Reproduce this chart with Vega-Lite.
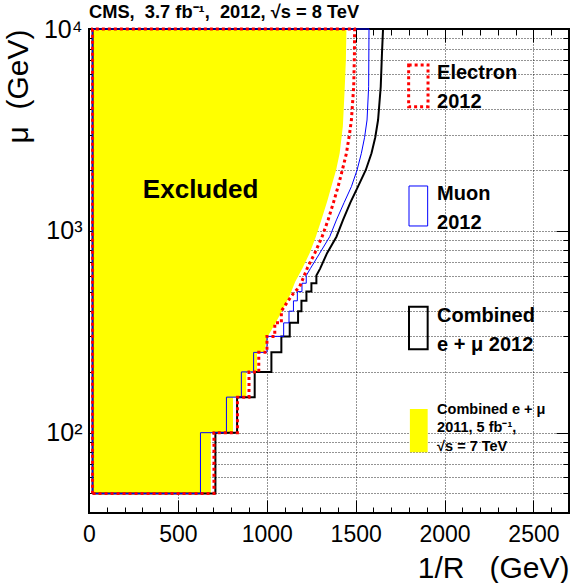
{
  "$schema": "https://vega.github.io/schema/vega-lite/v6.json",
  "width": 480,
  "height": 484,
  "autosize": {"type": "none"},
  "padding": {"left": 89, "top": 29, "right": 10, "bottom": 70},
  "title": {"text": "CMS,\u00a0 3.7 fb⁻¹,\u00a0 2012, √s = 8 TeV", "anchor": "start", "frame": "group", "font": "Liberation Sans", "fontSize": 18.3, "fontWeight": "bold", "color": "black", "offset": -23, "baseline": "bottom"},
  "datasets": {
    "yellow": [
      {"r0": 25, "r": 985, "mu": 250}, {"r0": 25, "r": 1005, "mu": 300}, {"r0": 25, "r": 1050, "mu": 350}, {"r0": 25, "r": 1085, "mu": 400},
      {"r0": 25, "r": 1130, "mu": 480}, {"r0": 25, "r": 1160, "mu": 560}, {"r0": 25, "r": 1200, "mu": 650}, {"r0": 25, "r": 1241, "mu": 775},
      {"r0": 25, "r": 1275, "mu": 930}, {"r0": 25, "r": 1307, "mu": 1133}, {"r0": 25, "r": 1340, "mu": 1400}, {"r0": 25, "r": 1363, "mu": 1656},
      {"r0": 25, "r": 1390, "mu": 2000}, {"r0": 25, "r": 1410, "mu": 2421}, {"r0": 25, "r": 1428, "mu": 3300}, {"r0": 25, "r": 1438, "mu": 5000},
      {"r0": 25, "r": 1445, "mu": 7000}, {"r0": 25, "r": 1448, "mu": 10000}
    ],
    "ystep": [
      {"r0": 25, "r": 685, "lo": 50, "hi": 10000},
      {"r0": 25, "r": 810, "lo": 100, "hi": 10000},
      {"r0": 25, "r": 885, "lo": 150, "hi": 10000},
      {"r0": 25, "r": 945, "lo": 200, "hi": 10000},
      {"r0": 25, "r": 985, "lo": 250, "hi": 10000}
    ],
    "lim": [
      {"s": "c", "o": 1, "r": 20, "mu": 50}, {"s": "c", "o": 2, "r": 711, "mu": 50}, {"s": "c", "o": 3, "r": 711, "mu": 100}, {"s": "c", "o": 4, "r": 833, "mu": 100},
      {"s": "c", "o": 5, "r": 833, "mu": 150}, {"s": "c", "o": 6, "r": 932, "mu": 150}, {"s": "c", "o": 7, "r": 932, "mu": 200}, {"s": "c", "o": 8, "r": 1026, "mu": 200},
      {"s": "c", "o": 9, "r": 1026, "mu": 250}, {"s": "c", "o": 10, "r": 1082, "mu": 250}, {"s": "c", "o": 11, "r": 1082, "mu": 300}, {"s": "c", "o": 12, "r": 1129, "mu": 300},
      {"s": "c", "o": 13, "r": 1129, "mu": 350}, {"s": "c", "o": 14, "r": 1176, "mu": 350}, {"s": "c", "o": 15, "r": 1176, "mu": 400}, {"s": "c", "o": 16, "r": 1195, "mu": 400},
      {"s": "c", "o": 17, "r": 1195, "mu": 450}, {"s": "c", "o": 18, "r": 1223, "mu": 450}, {"s": "c", "o": 19, "r": 1223, "mu": 500}, {"s": "c", "o": 20, "r": 1251, "mu": 500},
      {"s": "c", "o": 21, "r": 1251, "mu": 550}, {"s": "c", "o": 22, "r": 1279, "mu": 550}, {"s": "c", "o": 23, "r": 1279, "mu": 600}, {"s": "c", "o": 24, "r": 1300, "mu": 650},
      {"s": "c", "o": 25, "r": 1339, "mu": 775}, {"s": "c", "o": 26, "r": 1392, "mu": 935}, {"s": "c", "o": 27, "r": 1429, "mu": 1133}, {"s": "c", "o": 28, "r": 1470, "mu": 1380},
      {"s": "c", "o": 29, "r": 1513, "mu": 1656}, {"s": "c", "o": 30, "r": 1557, "mu": 2002}, {"s": "c", "o": 31, "r": 1589, "mu": 2421}, {"s": "c", "o": 32, "r": 1610, "mu": 2900},
      {"s": "c", "o": 33, "r": 1626, "mu": 3540}, {"s": "c", "o": 34, "r": 1641, "mu": 5176}, {"s": "c", "o": 35, "r": 1648, "mu": 7580}, {"s": "c", "o": 36, "r": 1654, "mu": 10000},
      {"s": "c", "o": 37, "r": 20, "mu": 10000}, {"s": "c", "o": 38, "r": 20, "mu": 50},
      {"s": "m", "o": 1, "r": 20, "mu": 50}, {"s": "m", "o": 2, "r": 627, "mu": 50}, {"s": "m", "o": 3, "r": 627, "mu": 100}, {"s": "m", "o": 4, "r": 773, "mu": 100},
      {"s": "m", "o": 5, "r": 773, "mu": 150}, {"s": "m", "o": 6, "r": 857, "mu": 150}, {"s": "m", "o": 7, "r": 857, "mu": 200}, {"s": "m", "o": 8, "r": 926, "mu": 200},
      {"s": "m", "o": 9, "r": 926, "mu": 250}, {"s": "m", "o": 10, "r": 1001, "mu": 250}, {"s": "m", "o": 11, "r": 1001, "mu": 300}, {"s": "m", "o": 12, "r": 1095, "mu": 300},
      {"s": "m", "o": 13, "r": 1095, "mu": 350}, {"s": "m", "o": 14, "r": 1125, "mu": 350}, {"s": "m", "o": 15, "r": 1125, "mu": 400}, {"s": "m", "o": 16, "r": 1150, "mu": 400},
      {"s": "m", "o": 17, "r": 1150, "mu": 450}, {"s": "m", "o": 18, "r": 1172, "mu": 450}, {"s": "m", "o": 19, "r": 1172, "mu": 500}, {"s": "m", "o": 20, "r": 1198, "mu": 500},
      {"s": "m", "o": 21, "r": 1198, "mu": 550}, {"s": "m", "o": 22, "r": 1222, "mu": 550}, {"s": "m", "o": 23, "r": 1222, "mu": 600}, {"s": "m", "o": 24, "r": 1245, "mu": 650},
      {"s": "m", "o": 25, "r": 1298, "mu": 775}, {"s": "m", "o": 26, "r": 1354, "mu": 935}, {"s": "m", "o": 27, "r": 1392, "mu": 1133}, {"s": "m", "o": 28, "r": 1435, "mu": 1380},
      {"s": "m", "o": 29, "r": 1476, "mu": 1656}, {"s": "m", "o": 30, "r": 1508, "mu": 2002}, {"s": "m", "o": 31, "r": 1532, "mu": 2421}, {"s": "m", "o": 32, "r": 1550, "mu": 2900},
      {"s": "m", "o": 33, "r": 1564, "mu": 3540}, {"s": "m", "o": 34, "r": 1573, "mu": 5176}, {"s": "m", "o": 35, "r": 1575, "mu": 10000},
      {"s": "m", "o": 36, "r": 20, "mu": 10000}, {"s": "m", "o": 37, "r": 20, "mu": 50},
      {"s": "e", "o": 1, "r": 20, "mu": 50}, {"s": "e", "o": 2, "r": 703, "mu": 50}, {"s": "e", "o": 3, "r": 703, "mu": 100}, {"s": "e", "o": 4, "r": 835, "mu": 100},
      {"s": "e", "o": 5, "r": 835, "mu": 150}, {"s": "e", "o": 6, "r": 900, "mu": 150}, {"s": "e", "o": 7, "r": 900, "mu": 200}, {"s": "e", "o": 8, "r": 955, "mu": 200},
      {"s": "e", "o": 9, "r": 955, "mu": 250}, {"s": "e", "o": 10, "r": 1001, "mu": 250}, {"s": "e", "o": 11, "r": 1001, "mu": 300}, {"s": "e", "o": 12, "r": 1045, "mu": 300},
      {"s": "e", "o": 13, "r": 1045, "mu": 350}, {"s": "e", "o": 14, "r": 1082, "mu": 350}, {"s": "e", "o": 15, "r": 1082, "mu": 400}, {"s": "e", "o": 16, "r": 1120, "mu": 450},
      {"s": "e", "o": 17, "r": 1150, "mu": 490}, {"s": "e", "o": 18, "r": 1185, "mu": 529}, {"s": "e", "o": 19, "r": 1230, "mu": 660}, {"s": "e", "o": 20, "r": 1270, "mu": 775},
      {"s": "e", "o": 21, "r": 1310, "mu": 930}, {"s": "e", "o": 22, "r": 1345, "mu": 1133}, {"s": "e", "o": 23, "r": 1375, "mu": 1380}, {"s": "e", "o": 24, "r": 1401, "mu": 1656},
      {"s": "e", "o": 25, "r": 1425, "mu": 2000}, {"s": "e", "o": 26, "r": 1448, "mu": 2421}, {"s": "e", "o": 27, "r": 1465, "mu": 3000}, {"s": "e", "o": 28, "r": 1476, "mu": 3540},
      {"s": "e", "o": 29, "r": 1489, "mu": 5176}, {"s": "e", "o": 30, "r": 1493, "mu": 7500}, {"s": "e", "o": 31, "r": 1494, "mu": 10000},
      {"s": "e", "o": 32, "r": 20, "mu": 10000}, {"s": "e", "o": 33, "r": 20, "mu": 50}
    ],
    "leg": [
      {"k": "e", "a": 1798, "b": 1907, "lo": 4121, "hi": 6632},
      {"k": "m", "a": 1800, "b": 1905, "lo": 1057, "hi": 1668},
      {"k": "c", "a": 1800, "b": 1905, "lo": 259, "hi": 421},
      {"k": "y", "a": 1805, "b": 1905, "lo": 80, "hi": 131}
    ],
    "txt": [
      {"sz": "L", "r": 1958, "mu": 6034, "t": "Electron"},
      {"sz": "L", "r": 1958, "mu": 4363, "t": "2012"},
      {"sz": "L", "r": 1958, "mu": 1522, "t": "Muon"},
      {"sz": "L", "r": 1958, "mu": 1090, "t": "2012"},
      {"sz": "L", "r": 1958, "mu": 378, "t": "Combined"},
      {"sz": "L", "r": 1958, "mu": 272, "t": "e + μ 2012"},
      {"sz": "S", "r": 1958, "mu": 129, "t": "Combined e + μ"},
      {"sz": "S", "r": 1958, "mu": 106, "t": "2011, 5 fb⁻¹,"},
      {"sz": "S", "r": 1958, "mu": 85, "t": "√s = 7 TeV"},
      {"sz": "X", "r": 303, "mu": 1594, "t": "Excluded"}
    ]
  },
  "layer": [
    {
      "data": {"name": "yellow"},
      "mark": {"type": "area", "orient": "horizontal", "color": "#ffff00", "opacity": 1},
      "encoding": {
        "y": {"field": "mu", "type": "quantitative", "scale": {"type": "log", "domain": [40, 10000], "nice": false},
          "axis": {"orient": "left", "values": [100, 1000, 10000], "labelExpr": "datum.value == 100 ? '10²' : datum.value == 1000 ? '10³' : '10⁴'", "tickSize": -13, "labelPadding": 20, "labelFontSize": 25, "labelFlush": false, "grid": false, "title": "μ\u00a0 (GeV)", "titleFontSize": 30, "titleFontWeight": "normal", "titleAnchor": "end", "titlePadding": 10}},
        "x": {"field": "r", "type": "quantitative", "scale": {"domain": [0, 2700], "nice": false, "zero": false},
          "axis": {"orient": "bottom", "values": [0, 500, 1000, 1500, 2000, 2500], "format": "d", "tickSize": -13, "labelPadding": 23, "labelFontSize": 23, "labelFlush": false, "grid": true, "title": "1/R\u00a0\u00a0 (GeV)", "titleFontSize": 30, "titleFontWeight": "normal", "titleAnchor": "end", "titlePadding": 7}},
        "x2": {"field": "r0"}
      }
    },
    {
      "data": {"name": "ystep"},
      "mark": {"type": "rect", "color": "#ffff00"},
      "encoding": {
        "x": {"field": "r0", "type": "quantitative", "scale": {"domain": [0, 2700], "nice": false, "zero": false}, "axis": null},
        "x2": {"field": "r"},
        "y": {"field": "lo", "type": "quantitative", "scale": {"type": "log", "domain": [40, 10000], "nice": false}, "axis": null},
        "y2": {"field": "hi"}
      }
    },
    {
      "data": {"name": "lim"},
      "transform": [{"filter": "datum.s == 'c'"}],
      "mark": {"type": "line", "color": "black", "strokeWidth": 2},
      "encoding": {
        "x": {"field": "r", "type": "quantitative", "scale": {"domain": [0, 2700], "nice": false, "zero": false},
          "axis": {"orient": "bottom", "values": [0, 100, 200, 300, 400, 500, 600, 700, 800, 900, 1000, 1100, 1200, 1300, 1400, 1500, 1600, 1700, 1800, 1900, 2000, 2100, 2200, 2300, 2400, 2500, 2600, 2700], "tickSize": -6, "labels": false, "grid": false, "title": null}},
        "y": {"field": "mu", "type": "quantitative", "scale": {"type": "log", "domain": [40, 10000], "nice": false},
          "axis": {"orient": "left", "values": [50, 60, 70, 80, 90, 100, 200, 300, 400, 500, 600, 700, 800, 900, 1000, 2000, 3000, 4000, 5000, 6000, 7000, 8000, 9000], "tickSize": -6, "labels": false, "grid": true, "title": null}},
        "order": {"field": "o", "type": "quantitative"}
      }
    },
    {
      "data": {"name": "lim"},
      "transform": [{"filter": "datum.s == 'm'"}],
      "mark": {"type": "line", "color": "#0000ff", "strokeWidth": 1},
      "encoding": {
        "x": {"field": "r", "type": "quantitative", "scale": {"domain": [0, 2700], "nice": false, "zero": false},
          "axis": {"orient": "top", "values": [0, 500, 1000, 1500, 2000, 2500], "tickSize": -13, "labels": false, "grid": false, "title": null}},
        "y": {"field": "mu", "type": "quantitative", "scale": {"type": "log", "domain": [40, 10000], "nice": false},
          "axis": {"orient": "right", "values": [100, 1000, 10000], "tickSize": -13, "labels": false, "grid": false, "title": null}},
        "order": {"field": "o", "type": "quantitative"}
      }
    },
    {
      "data": {"name": "lim"},
      "transform": [{"filter": "datum.s == 'e'"}],
      "mark": {"type": "line", "color": "#ff0000", "strokeWidth": 3, "strokeDash": [3, 3]},
      "encoding": {
        "x": {"field": "r", "type": "quantitative", "scale": {"domain": [0, 2700], "nice": false, "zero": false},
          "axis": {"orient": "top", "values": [0, 100, 200, 300, 400, 500, 600, 700, 800, 900, 1000, 1100, 1200, 1300, 1400, 1500, 1600, 1700, 1800, 1900, 2000, 2100, 2200, 2300, 2400, 2500, 2600, 2700], "tickSize": -6, "labels": false, "grid": false, "title": null}},
        "y": {"field": "mu", "type": "quantitative", "scale": {"type": "log", "domain": [40, 10000], "nice": false},
          "axis": {"orient": "right", "values": [50, 60, 70, 80, 90, 200, 300, 400, 500, 600, 700, 800, 900, 2000, 3000, 4000, 5000, 6000, 7000, 8000, 9000], "tickSize": -6, "labels": false, "grid": false, "title": null}},
        "order": {"field": "o", "type": "quantitative"}
      }
    },
    {
      "data": {"name": "leg"},
      "transform": [{"filter": "datum.k == 'y'"}],
      "mark": {"type": "rect", "color": "#ffff00"},
      "encoding": {
        "x": {"field": "a", "type": "quantitative", "scale": {"domain": [0, 2700], "nice": false, "zero": false}, "axis": null},
        "x2": {"field": "b"},
        "y": {"field": "lo", "type": "quantitative", "scale": {"type": "log", "domain": [40, 10000], "nice": false}, "axis": null},
        "y2": {"field": "hi"}
      }
    },
    {
      "data": {"name": "leg"},
      "transform": [{"filter": "datum.k == 'c'"}],
      "mark": {"type": "rect", "filled": false, "color": "black", "strokeWidth": 2},
      "encoding": {
        "x": {"field": "a", "type": "quantitative", "scale": {"domain": [0, 2700], "nice": false, "zero": false}, "axis": null},
        "x2": {"field": "b"},
        "y": {"field": "lo", "type": "quantitative", "scale": {"type": "log", "domain": [40, 10000], "nice": false}, "axis": null},
        "y2": {"field": "hi"}
      }
    },
    {
      "data": {"name": "leg"},
      "transform": [{"filter": "datum.k == 'm'"}],
      "mark": {"type": "rect", "filled": false, "color": "#0000ff", "strokeWidth": 1},
      "encoding": {
        "x": {"field": "a", "type": "quantitative", "scale": {"domain": [0, 2700], "nice": false, "zero": false}, "axis": null},
        "x2": {"field": "b"},
        "y": {"field": "lo", "type": "quantitative", "scale": {"type": "log", "domain": [40, 10000], "nice": false}, "axis": null},
        "y2": {"field": "hi"}
      }
    },
    {
      "data": {"name": "leg"},
      "transform": [{"filter": "datum.k == 'e'"}],
      "mark": {"type": "rect", "filled": false, "color": "#ff0000", "strokeWidth": 3, "strokeDash": [3, 3]},
      "encoding": {
        "x": {"field": "a", "type": "quantitative", "scale": {"domain": [0, 2700], "nice": false, "zero": false}, "axis": null},
        "x2": {"field": "b"},
        "y": {"field": "lo", "type": "quantitative", "scale": {"type": "log", "domain": [40, 10000], "nice": false}, "axis": null},
        "y2": {"field": "hi"}
      }
    },
    {
      "data": {"name": "txt"},
      "transform": [{"filter": "datum.sz == 'L'"}],
      "mark": {"type": "text", "align": "left", "baseline": "middle", "font": "Liberation Sans", "fontSize": 20, "fontWeight": "bold", "color": "black"},
      "encoding": {
        "x": {"field": "r", "type": "quantitative", "scale": {"domain": [0, 2700], "nice": false, "zero": false}, "axis": null},
        "y": {"field": "mu", "type": "quantitative", "scale": {"type": "log", "domain": [40, 10000], "nice": false}, "axis": null},
        "text": {"field": "t"}
      }
    },
    {
      "data": {"name": "txt"},
      "transform": [{"filter": "datum.sz == 'S'"}],
      "mark": {"type": "text", "align": "left", "baseline": "middle", "font": "Liberation Sans", "fontSize": 14.5, "fontWeight": "bold", "color": "black"},
      "encoding": {
        "x": {"field": "r", "type": "quantitative", "scale": {"domain": [0, 2700], "nice": false, "zero": false}, "axis": null},
        "y": {"field": "mu", "type": "quantitative", "scale": {"type": "log", "domain": [40, 10000], "nice": false}, "axis": null},
        "text": {"field": "t"}
      }
    },
    {
      "data": {"name": "txt"},
      "transform": [{"filter": "datum.sz == 'X'"}],
      "mark": {"type": "text", "align": "left", "baseline": "middle", "font": "Liberation Sans", "fontSize": 26, "fontWeight": "bold", "color": "black"},
      "encoding": {
        "x": {"field": "r", "type": "quantitative", "scale": {"domain": [0, 2700], "nice": false, "zero": false}, "axis": null},
        "y": {"field": "mu", "type": "quantitative", "scale": {"type": "log", "domain": [40, 10000], "nice": false}, "axis": null},
        "text": {"field": "t"}
      }
    }
  ],
  "resolve": {"axis": {"x": "independent", "y": "independent"}},
  "config": {
    "view": {"stroke": "black", "strokeWidth": 2},
    "axis": {"domain": false, "labelFont": "Liberation Sans", "titleFont": "Liberation Sans", "labelColor": "black", "titleColor": "black", "tickColor": "black", "tickWidth": 1, "gridColor": "black", "gridDash": [1, 2], "gridWidth": 1, "gridOpacity": 0.85}
  }
}
